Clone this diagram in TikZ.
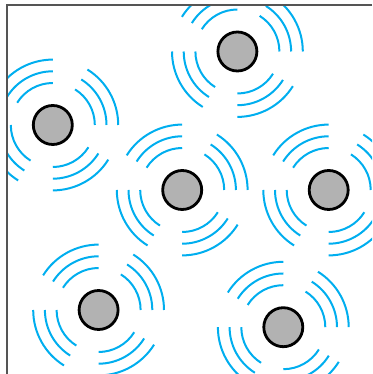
\documentclass[tikz,border=0pt]{standalone}
\definecolor{wave}{RGB}{0,174,239}
\definecolor{framegray}{RGB}{85,85,85}
\begin{document}
\begin{tikzpicture}[x=1pt,y=1pt,
  emitter/.style={circle,draw=black,line width=2.8pt,fill=black!30,minimum size=39pt,inner sep=0pt},
  wavearc/.style={draw=wave,line width=2pt},
  framestyle/.style={draw=framegray,line width=1.8pt}]
\useasboundingbox (0,0) rectangle (372,374);
\begin{scope}
\clip (7,0) rectangle (372,369);
\node[emitter] (A) at (52.8,249) {};
\node[emitter] (B) at (237.4,322.5) {};
\node[emitter] (C) at (182.2,184) {};
\node[emitter] (D) at (328.7,184) {};
\node[emitter] (E) at (98.6,64) {};
\node[emitter] (F) at (283.3,46.8) {};
\foreach \n in {A,B,C,D,E,F}{
  \foreach \a in {0,90,180,270}{
    \foreach \r in {42,53.7,65.4}{
      \draw[wavearc] (\n.center) ++(\a:\r) arc[start angle=\a, end angle=\a+58, radius=\r];
    }
  }
}
\end{scope}
\draw[framestyle] (372,369) -- (7,369) -- (7,0);
\end{tikzpicture}
\end{document}
